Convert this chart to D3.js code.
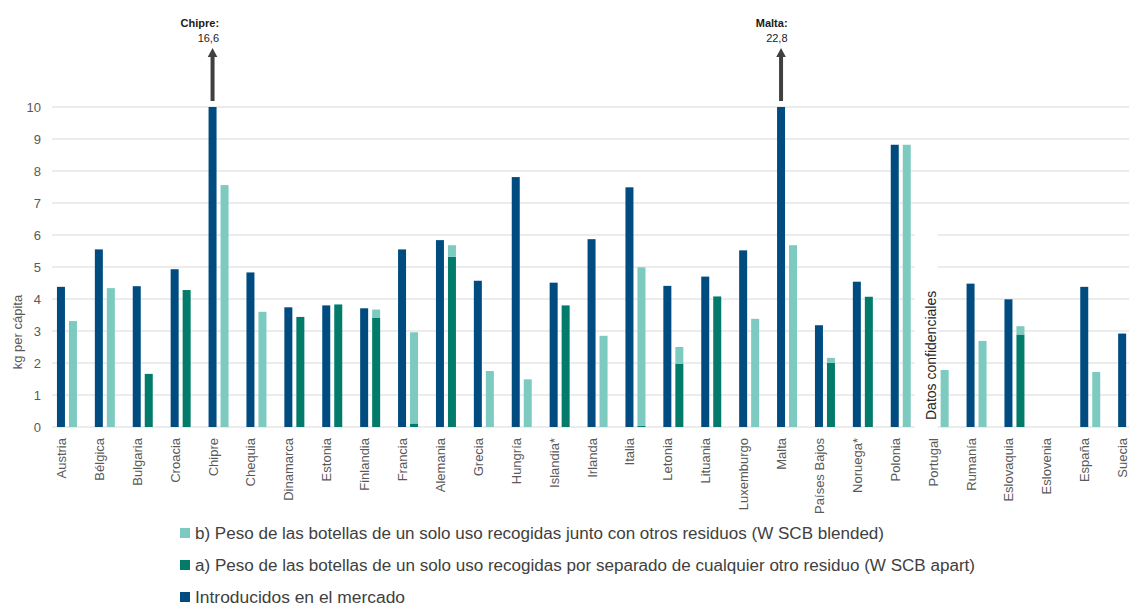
<!DOCTYPE html>
<html>
<head>
<meta charset="utf-8">
<script src="https://cdn.jsdelivr.net/npm/d3@7"></script>
<style>
  html, body { margin: 0; padding: 0; background: #fff; }
  svg { display: block; }
  text { font-family: "Liberation Sans", Arial, sans-serif; }
</style>
</head>
<body>
<svg id="chart" width="1129" height="605"></svg>
<script>
const countries = ["Austria","Bélgica","Bulgaria","Croacia","Chipre","Chequia","Dinamarca","Estonia","Finlandia","Francia","Alemania","Grecia","Hungría","Islandia*","Irlanda","Italia","Letonia","Lituania","Luxemburgo","Malta","Países Bajos","Noruega*","Polonia","Portugal","Rumanía","Eslovaquia","Eslovenia","España","Suecia"];
// Introducidos en el mercado (kg per cápita)
const market = [4.38,5.55,4.40,4.93,16.6,4.83,3.74,3.80,3.71,5.55,5.84,4.57,7.81,4.51,5.87,7.49,4.41,4.70,5.52,22.8,3.18,4.54,8.82,null,4.48,3.99,null,4.38,2.92];
// a) recogidas por separado (W SCB apart)
const apart = [0,0,1.66,4.28,0,0,3.44,3.83,3.42,0.11,5.32,0,0,3.80,0,0.04,1.98,4.08,0,0,2.01,4.07,0,0,0,2.89,0,0,0];
// b) recogidas junto con otros residuos (W SCB blended), apiladas sobre a)
const blended = [3.31,4.34,0,0,7.56,3.60,0,0,0.25,2.85,0.36,1.75,1.49,0,2.85,4.95,0.52,0,3.38,5.68,0.15,0,8.82,1.78,2.69,0.26,0,1.72,0];
const yTicks = [0,1,2,3,4,5,6,7,8,9,10];
const callouts = [{country:"Chipre", label:"Chipre:", value:"16,6"},{country:"Malta", label:"Malta:", value:"22,8"}];
const legendItems = [
  {key:"b", text:"b) Peso de las botellas de un solo uso recogidas junto con otros residuos (W SCB blended)"},
  {key:"a", text:"a) Peso de las botellas de un solo uso recogidas por separado de cualquier otro residuo (W SCB apart)"},
  {key:"m", text:"Introducidos en el mercado"}
];
const colors = {m:"#004C80", a:"#037B6B", b:"#7DCAC0"};

const svg = d3.select("#chart");
const step = 37.9;
const x = d3.scaleBand().domain(countries).range([48, 48 + step*countries.length]).padding(0);
const xSub = d3.scaleBand().domain(["m","r"]).range([0, x.bandwidth()]).paddingInner(0.333).paddingOuter(0.746);
const y = d3.scaleLinear().domain([0,10]).range([427,107]);
const gridLeft = 52, gridRight = 1129;

// gridlines
svg.append("g").selectAll("line").data(yTicks).join("line")
  .attr("x1", gridLeft).attr("x2", gridRight)
  .attr("y1", d => y(d)).attr("y2", d => y(d))
  .attr("stroke", "#d9d9d9").attr("stroke-width", 1.2);

// y axis labels
const yAxis = d3.axisLeft(y).tickValues(yTicks).tickSize(0).tickPadding(0).tickFormat(d3.format("d"));
const ya = svg.append("g").attr("transform", "translate(41,0)").call(yAxis);
ya.select(".domain").remove();
ya.selectAll("text").attr("fill", "#595959").style("font-size", "13px").style("font-family", "'Liberation Sans', Arial, sans-serif");

svg.append("text").attr("transform", "translate(22,332) rotate(-90)")
  .attr("text-anchor", "middle").attr("fill", "#595959").style("font-size", "13px")
  .text("kg per cápita");

const g = svg.append("g");
// market bars
g.selectAll("rect.m").data(countries.map((c,i)=>({c, v:market[i]})).filter(d=>d.v!=null)).join("rect")
  .attr("class","m")
  .attr("x", d => x(d.c) + xSub("m")).attr("width", xSub.bandwidth())
  .attr("y", d => y(Math.min(d.v,10))).attr("height", d => y(0) - y(Math.min(d.v,10)))
  .attr("fill", colors.m);
// apart bars
g.selectAll("rect.a").data(countries.map((c,i)=>({c, v:apart[i]})).filter(d=>d.v>0)).join("rect")
  .attr("class","a")
  .attr("x", d => x(d.c) + xSub("r")).attr("width", xSub.bandwidth())
  .attr("y", d => y(d.v)).attr("height", d => y(0) - y(d.v))
  .attr("fill", colors.a);
// blended bars stacked on apart
g.selectAll("rect.b").data(countries.map((c,i)=>({c, lo:apart[i], hi:apart[i]+blended[i]})).filter(d=>d.hi>d.lo)).join("rect")
  .attr("class","b")
  .attr("x", d => x(d.c) + xSub("r")).attr("width", xSub.bandwidth())
  .attr("y", d => y(Math.min(d.hi,10))).attr("height", d => y(d.lo) - y(Math.min(d.hi,10)))
  .attr("fill", colors.b);

// x labels
svg.append("g").selectAll("text").data(countries).join("text")
  .attr("transform", d => `translate(${x(d) + x.bandwidth()/2 - 1},438) rotate(-90)`)
  .attr("text-anchor", "end").attr("fill", "#595959").style("font-size", "13px")
  .text(d => d);

// confidential box
const px = x("Portugal");
svg.append("rect").attr("x", px - 5).attr("y", y(6) - 3).attr("width", xSub("r") - 3 + 5)
  .attr("height", y(0) - y(6) + 5).attr("fill", "#fff");
svg.append("text").attr("transform", `translate(${px + 16},420) rotate(-90)`)
  .attr("text-anchor", "start").attr("fill", "#262626").style("font-size", "14px")
  .text("Datos confidenciales");

// callouts
callouts.forEach(c => {
  const cx = x(c.country) + xSub("m") + xSub.bandwidth()/2;
  const top = 48, headBase = 57, bottom = y(10) - 6;
  svg.append("path")
    .attr("d", `M${cx-2},${bottom} L${cx-2},${headBase} L${cx-4.8},${headBase} L${cx},${top} L${cx+4.8},${headBase} L${cx+2},${headBase} L${cx+2},${bottom} Z`)
    .attr("fill", "#404040");
  svg.append("text").attr("x", cx + 6.5).attr("y", 27).attr("text-anchor","end")
    .attr("fill","#1a1a1a").style("font-size","11px").style("font-weight","bold")
    .style("font-family","'Liberation Sans Narrow', 'Liberation Sans', Arial, sans-serif").text(c.label);
  svg.append("text").attr("x", cx + 6.5).attr("y", 42).attr("text-anchor","end")
    .attr("fill","#1a1a1a").style("font-size","11px")
    .style("font-family","'Liberation Sans Narrow', 'Liberation Sans', Arial, sans-serif").text(c.value);
});

// legend
const legendW = [689, 780, 210];
const lg = svg.append("g");
legendItems.forEach((it, i) => {
  const cy = 533 + i*32;
  lg.append("rect").attr("x", 180).attr("y", cy - 5).attr("width", 10).attr("height", 10).attr("fill", colors[it.key]);
  lg.append("text").attr("x", 195).attr("y", cy + 6).attr("fill", "#404040")
    .style("font-size", "16px")
    .style("font-family", "'Liberation Sans Narrow', 'Liberation Sans', Arial, sans-serif")
    .attr("textLength", legendW[i]).attr("lengthAdjust", "spacingAndGlyphs")
    .text(it.text);
});
</script>
</body>
</html>
